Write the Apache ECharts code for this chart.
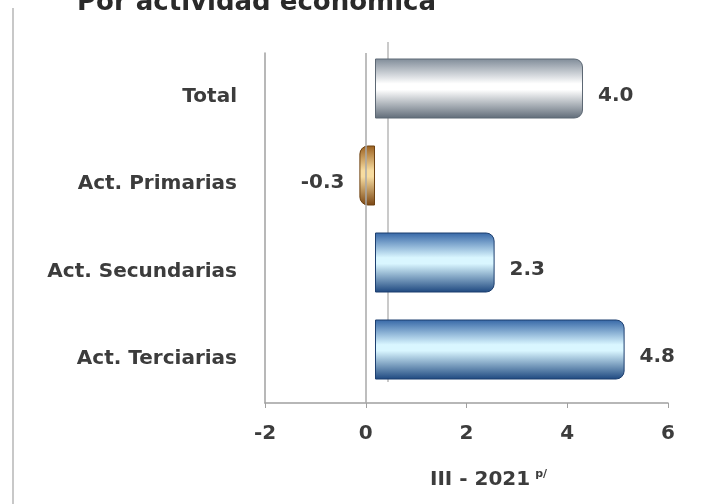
<!DOCTYPE html>
<html><head><meta charset="utf-8">
<script src="https://cdn.jsdelivr.net/npm/echarts@6/dist/echarts.min.js"></script>
<style>html,body{margin:0;padding:0;background:#fff}#c{width:705px;height:504px}</style>
</head><body><div id="c"></div>
<script>
const categories = ['Total', 'Act. Primarias', 'Act. Secundarias', 'Act. Terciarias'];
const values = [4.0, -0.3, 2.3, 4.8];
const xTicks = [-2, 0, 2, 4, 6];
const titleText = 'Por actividad económica';
const axisTitle = 'III - 2021';
const axisSup = 'p/';

const FONT = '"DejaVu Sans", sans-serif';
const TXT = '#3c3c3c';
const grad = (a, b, c) => new echarts.graphic.LinearGradient(0, 0, 0, 1, [
  {offset: 0, color: a}, {offset: 0.42, color: b}, {offset: 0.52, color: b}, {offset: 1, color: c}
]);
const styles = [
  grad('#7f8b98', '#ffffff', '#5f6b78'),
  grad('#9a5f1e', '#f7dca0', '#7a4512'),
  grad('#3566a6', '#d9f6ff', '#1d477f'),
  grad('#3566a6', '#d9f6ff', '#1d477f')
];
const borders = ['#5d6874', '#6e4212', '#1d3f6f', '#1d3f6f'];

const chart = echarts.init(document.getElementById('c'));
chart.setOption({
  animation: false,
  title: {text: titleText, left: 72, top: -15,
    textStyle: {fontFamily: FONT, fontWeight: 'bold', fontSize: 26, color: '#2a2a2a'}},
  graphic: [
    {type: 'line', shape: {x1: 13, y1: 8, x2: 13, y2: 504}, style: {stroke: '#c8c8c8', lineWidth: 2}},
    {type: 'line', shape: {x1: 388, y1: 42, x2: 388, y2: 382}, style: {stroke: '#b8b8b8', lineWidth: 1.5}}
  ],
  grid: [
    {left: 265, right: 37, top: 53, bottom: 101},
    {left: 271, width: 416, top: 45, bottom: 111}
  ],
  xAxis: [
    {gridIndex: 0, type: 'value', min: xTicks[0], max: xTicks[xTicks.length - 1], interval: 2,
      axisLine: {show: true, onZero: false, lineStyle: {color: '#a0a0a0', width: 1.5}},
      axisTick: {show: true, length: 5, lineStyle: {color: '#a0a0a0'}},
      axisLabel: {fontFamily: FONT, fontWeight: 'bold', fontSize: 20, color: TXT, margin: 21},
      splitLine: {show: false},
      name: '{m|' + axisTitle + '}{s|' + axisSup + '}', nameLocation: 'middle', nameGap: 66,
      nameTextStyle: {padding: [0, 0, 0, 44], rich: {
        m: {fontFamily: FONT, fontWeight: 'bold', fontSize: 20, color: TXT},
        s: {fontFamily: FONT, fontWeight: 'bold', fontSize: 11, color: TXT, verticalAlign: 'top', padding: [0, 0, 10, 5]}
      }}},
    {gridIndex: 1, type: 'value', min: xTicks[0], max: xTicks[xTicks.length - 1], show: false}
  ],
  yAxis: [
    {gridIndex: 0, type: 'category', data: categories, inverse: true,
      axisLine: {show: true, onZero: false, lineStyle: {color: '#a0a0a0', width: 1.5}},
      axisTick: {show: false},
      axisLabel: {fontFamily: FONT, fontWeight: 'bold', fontSize: 20, color: TXT, margin: 28}},
    {gridIndex: 1, type: 'category', data: categories, inverse: true, show: false}
  ],
  series: [
    {type: 'bar', xAxisIndex: 0, yAxisIndex: 0, data: [], silent: true,
      markLine: {silent: true, symbol: 'none', label: {show: false},
        lineStyle: {color: '#a8a8a8', type: 'solid', width: 1.5}, data: [{xAxis: 0}]}},
    {type: 'bar', xAxisIndex: 1, yAxisIndex: 1, barWidth: 60,
      data: values.map((v, i) => ({value: v, itemStyle: {color: styles[i], borderColor: borders[i], borderWidth: 1,
        borderRadius: v >= 0 ? [0, 8, 8, 0] : [8, 0, 0, 8]}})),
      label: {show: true, position: 'outside', distance: 15, offset: [0, 7],
        formatter: p => p.value.toFixed(1),
        fontFamily: FONT, fontWeight: 'bold', fontSize: 20, color: TXT}}
  ]
});
</script></body></html>
